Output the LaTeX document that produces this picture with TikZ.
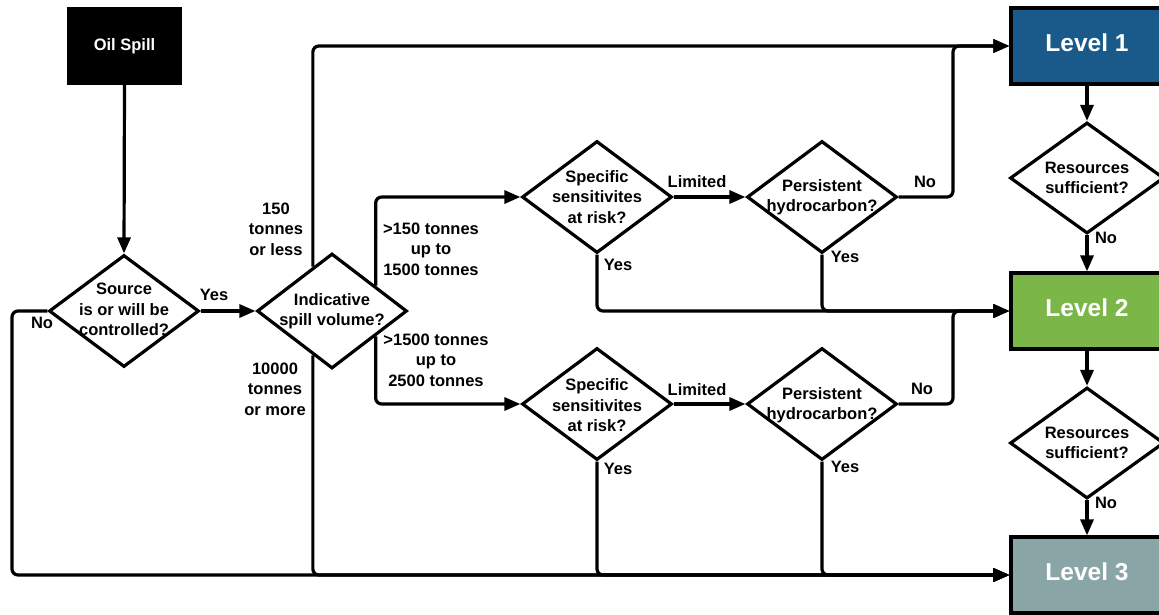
\documentclass[tikz,border=0pt]{standalone}
\usepackage{fontspec}
\setmainfont{Liberation Sans}
\usetikzlibrary{shapes.geometric,arrows.meta,calc}
\definecolor{lvone}{HTML}{1A5A8A}
\definecolor{lvtwo}{HTML}{7AB648}
\definecolor{lvthree}{HTML}{8AA5A5}
\begin{document}
\begin{tikzpicture}[x=1pt,y=-1pt,
  every node/.style={font=\bfseries\fontsize{16.5}{20.5}\selectfont, align=center, inner sep=0pt},
  line/.style={line width=3.2pt, rounded corners=6pt},
  arr/.style={line, -{Triangle[length=16pt,width=13pt]}},
  dia/.style={diamond, draw, line width=3.2pt, fill=white, minimum width=150pt, minimum height=112pt},
  startbox/.style={rectangle, fill=black, text=white, minimum width=115pt, minimum height=78pt},
  levelbox/.style={rectangle, draw, line width=3.2pt, fill=#1, text=white, minimum width=152pt, minimum height=76pt,
    text depth=6pt, font=\bfseries\fontsize{24.5}{28}\selectfont},
  lbl/.style={}
]
\useasboundingbox (0,0) rectangle (1159,614);
\clip (0,0) rectangle (1159,614);

% nodes
\node[startbox] (oil) at (124.5,46) {Oil Spill};
\node[dia, label={[yshift=1.5pt]center:Source\\is or will be\\controlled?}] (src) at (124,311) {};
\node[dia, minimum height=115pt, label={center:Indicative\\spill volume?}] (ind) at (332,311) {};
\node[dia, label={center:Specific\\sensitivites\\at risk?}] (sp1) at (597,197) {};
\node[dia, label={[yshift=-1.5pt]center:Specific\\sensitivites\\at risk?}] (sp2) at (597,404) {};
\node[dia, label={center:Persistent\\hydrocarbon?}] (pe1) at (822,197) {};
\node[dia, label={[yshift=-1pt]center:Persistent\\hydrocarbon?}] (pe2) at (822,404) {};
\node[dia, minimum width=154pt, minimum height=111pt, label={center:Resources\\sufficient?}] (res1) at (1087,178) {};
\node[dia, minimum width=154pt, minimum height=111pt, label={center:Resources\\sufficient?}] (res2) at (1087,443) {};
\node[levelbox=lvone] (L1) at (1087,46) {Level 1};
\node[levelbox=lvtwo] (L2) at (1087,311) {Level 2};
\node[levelbox=lvthree] (L3) at (1087,575) {Level 3};

\coordinate (lft) at (12,575);
\coordinate (j1) at (953,46);
\coordinate (j2) at (953,311);

% connectors
\draw[arr] (oil.south) -- (src.north);
\draw[arr] (src.east) -- (ind.west);
\draw[arr] (src.west) -| (lft) -- (L3.west);
\draw[arr] ($(ind.west)!0.75!(ind.north)$) |- (L1.west);
\draw[arr] ($(ind.west)!0.75!(ind.south)$) |- (L3.west);
\draw[arr] ($(ind.east)!0.43!(ind.north)$) |- (sp1.west);
\draw[arr] ($(ind.east)!0.43!(ind.south)$) |- (sp2.west);
\draw[arr] (sp1.east) -- (pe1.west);
\draw[arr] (sp2.east) -- (pe2.west);
\draw[arr] (pe1.east) -| (j1) -- (L1.west);
\draw[arr] (pe2.east) -| (j2) -- (L2.west);
\draw[arr] (sp1.south) |- (L2.west);
\draw[arr] (pe1.south) |- (L2.west);
\draw[arr] (sp2.south) |- (L3.west);
\draw[arr] (pe2.south) |- (L3.west);
\draw[arr] (L1.south) -- (res1.north);
\draw[arr] (res1.south) -- (L2.north);
\draw[arr] (L2.south) -- (res2.north);
\draw[arr] (res2.south) -- (L3.north);

% labels
\node[lbl] (tyes) at (214,295) {Yes};
\node[lbl] (tno) at (42,323) {No};
\node[lbl] (t150) at (276,229) {150\\tonnes\\or less};
\node[lbl] (t10k) at (275,389) {10000\\tonnes\\or more};
\node[lbl] (t1500) at (431,249) {>150 tonnes\\up to\\1500 tonnes};
\node[lbl] (t2500) at (436,360) {>1500 tonnes\\up to\\2500 tonnes};
\node[lbl] (lim1) at (697,182) {Limited};
\node[lbl] (lim2) at (697,390) {Limited};
\node[lbl] (sy1) at (618,265) {Yes};
\node[lbl] (sy2) at (618,469) {Yes};
\node[lbl] (pn1) at (925,182) {No};
\node[lbl] (pn2) at (922,389) {No};
\node[lbl] (py1) at (845,257) {Yes};
\node[lbl] (py2) at (845,467) {Yes};
\node[lbl] (rn1) at (1106,238) {No};
\node[lbl] (rn2) at (1106,503) {No};
\end{tikzpicture}
\end{document}
